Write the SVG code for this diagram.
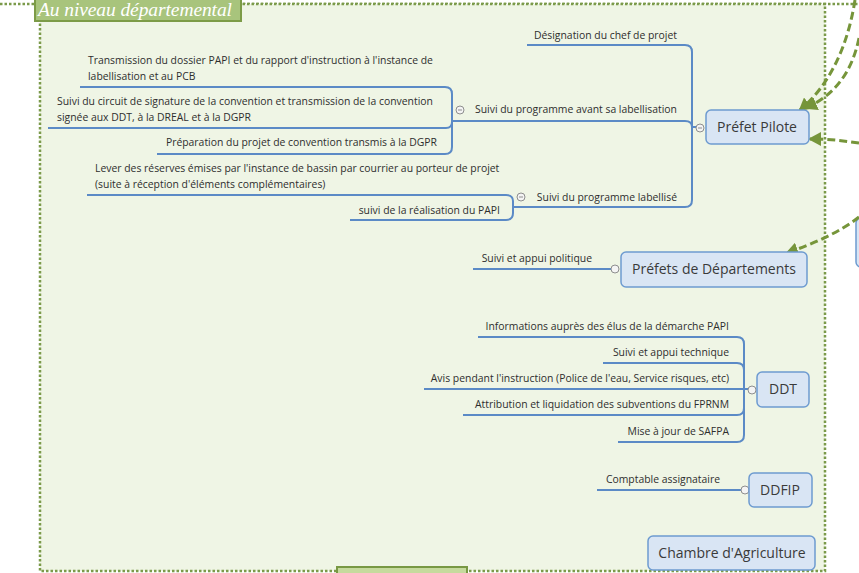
<svg xmlns="http://www.w3.org/2000/svg" width="859" height="573" viewBox="0 0 859 573">
<defs>
<style>
.t{font-family:"Open Sans","Noto Sans",sans-serif;font-size:10.4px;fill:#2e2e2e}
.n{font-family:"Open Sans","Noto Sans",sans-serif;font-size:14px;fill:#3a3a3a;text-anchor:middle}
.box{fill:#d9e5f4;stroke:#6e9bd0;stroke-width:1.5}
.br{fill:none;stroke:#5b8ac6;stroke-width:2}
.cc{fill:#f4f4f4;stroke:#8e8e8e;stroke-width:1}
.cm{stroke:#8e8e8e;stroke-width:1}
.da{fill:none;stroke:#76953a;stroke-width:3;stroke-dasharray:8 4}
</style>
<marker id="ah" markerUnits="userSpaceOnUse" markerWidth="14" markerHeight="14" refX="11" refY="7" orient="auto">
<path d="M0,0 L13,7 L0,14 z" fill="#76953a"/>
</marker>
</defs>
<rect x="0" y="0" width="859" height="573" fill="#ffffff"/>
<g id="container">
<line x1="0" y1="4" x2="859" y2="4" stroke="#7b9a4a" stroke-width="2.5" stroke-dasharray="2.5 2"/>
<rect x="40" y="4" width="785" height="567" fill="#eff5e5" stroke="#7b9a4a" stroke-width="2.5" stroke-dasharray="2.5 2"/>
<rect x="35" y="-6" width="206" height="27" fill="#a8c47c" stroke="#7c9b47" stroke-width="2"/>
<text x="38" y="16" font-family="'Liberation Serif',serif" font-style="italic" font-size="19.5" fill="#ffffff" textLength="194">Au niveau départemental</text>
<rect x="337" y="567" width="130" height="12" fill="#c5da9d" stroke="#789843" stroke-width="2"/>
<rect x="856" y="218" width="40" height="49" rx="5" class="box"/>
</g>
<g id="connectors">
<path class="br" d="M527,45 H685 Q692,45 692,52 V200 Q692,207 685,207 H513"/>
<path class="br" d="M452,121 H685 Q692,121 692,127 H696"/>
<path class="br" d="M80,87 H445 Q452,87 452,94 V147 Q452,154 445,154 H157"/>
<path class="br" d="M48,128 H446 Q452,128 452,122"/>
<path class="br" d="M87,195 H506 Q513,195 513,201 V213 Q513,220 506,220 H350"/>
<path class="br" d="M473,269 H611"/>
<path class="br" d="M478,337 H737 Q744,337 744,344 V435 Q744,442 737,442 H618"/>
<path class="br" d="M603,363 H737 Q744,363 744,370"/>
<path class="br" d="M463,415 H737 Q744,415 744,408"/>
<path class="br" d="M424,389 H748"/>
<path class="br" d="M597,490 H741"/>
<circle class="cc" cx="700" cy="128" r="4"/><line class="cm" x1="698" y1="128" x2="702" y2="128"/>
<circle class="cc" cx="460" cy="110" r="4"/><line class="cm" x1="458" y1="110" x2="462" y2="110"/>
<circle class="cc" cx="521" cy="197" r="4"/><line class="cm" x1="519" y1="197" x2="523" y2="197"/>
<circle class="cc" cx="615" cy="269" r="4"/>
<circle class="cc" cx="752" cy="390" r="4"/>
<circle class="cc" cx="745" cy="490" r="4"/>
<path class="da" d="M855,0 C848,45 830,85 800,110" marker-end="url(#ah)"/>
<path class="da" d="M859,38 C852,72 835,95 806,108" marker-end="url(#ah)"/>
<path class="da" d="M859,143 C845,141 830,139 810,139" marker-end="url(#ah)"/>
<path class="da" d="M859,217 C840,232 815,243 787,253" marker-end="url(#ah)"/>
</g>
<g id="prefet-pilote">
<rect class="box" x="706" y="110" width="103" height="34" rx="5"/>
<text class="n" x="757" y="132">Préfet Pilote</text>
</g>
<g id="prefet-labels">
<text class="t" x="677" y="39" text-anchor="end">Désignation du chef de projet</text>
<text class="t" x="677" y="113" text-anchor="end">Suivi du programme avant sa labellisation</text>
<text class="t" x="677" y="201" text-anchor="end">Suivi du programme labellisé</text>
<text class="t" x="88" y="64">Transmission du dossier PAPI et du rapport d'instruction à l'instance de</text>
<text class="t" x="88" y="80">labellisation et au PCB</text>
<text class="t" x="57" y="105">Suivi du circuit de signature de la convention et transmission de la convention</text>
<text class="t" x="57" y="121">signée aux DDT, à la DREAL et à la DGPR</text>
<text class="t" x="437" y="146" text-anchor="end">Préparation du projet de convention transmis à la DGPR</text>
<text class="t" x="95" y="172">Lever des réserves émises par l'instance de bassin par courrier au porteur de projet</text>
<text class="t" x="95" y="188">(suite à réception d'éléments complémentaires)</text>
<text class="t" x="500" y="214" text-anchor="end">suivi de la réalisation du PAPI</text>
</g>
<g id="prefets-departements">
<rect class="box" x="621" y="252" width="186" height="35" rx="5"/>
<text class="n" x="714" y="274">Préfets de Départements</text>
<text class="t" x="592" y="262" text-anchor="end">Suivi et appui politique</text>
</g>
<g id="ddt">
<rect class="box" x="757" y="372" width="52" height="35" rx="5"/>
<text class="n" x="783" y="394">DDT</text>
<text class="t" x="729" y="330" text-anchor="end">Informations auprès des élus de la démarche PAPI</text>
<text class="t" x="729" y="356" text-anchor="end">Suivi et appui technique</text>
<text class="t" x="729" y="382" text-anchor="end">Avis pendant l'instruction (Police de l'eau, Service risques, etc)</text>
<text class="t" x="729" y="408" text-anchor="end">Attribution et liquidation des subventions du FPRNM</text>
<text class="t" x="729" y="435" text-anchor="end">Mise à jour de SAFPA</text>
</g>
<g id="ddfip">
<rect class="box" x="749" y="473" width="63" height="34" rx="5"/>
<text class="n" x="780" y="495">DDFIP</text>
<text class="t" x="720" y="483" text-anchor="end">Comptable assignataire</text>
</g>
<g id="chambre-agriculture">
<rect class="box" x="648" y="536" width="167" height="34" rx="5"/>
<text class="n" x="732" y="558">Chambre d'Agriculture</text>
</g>
</svg>
